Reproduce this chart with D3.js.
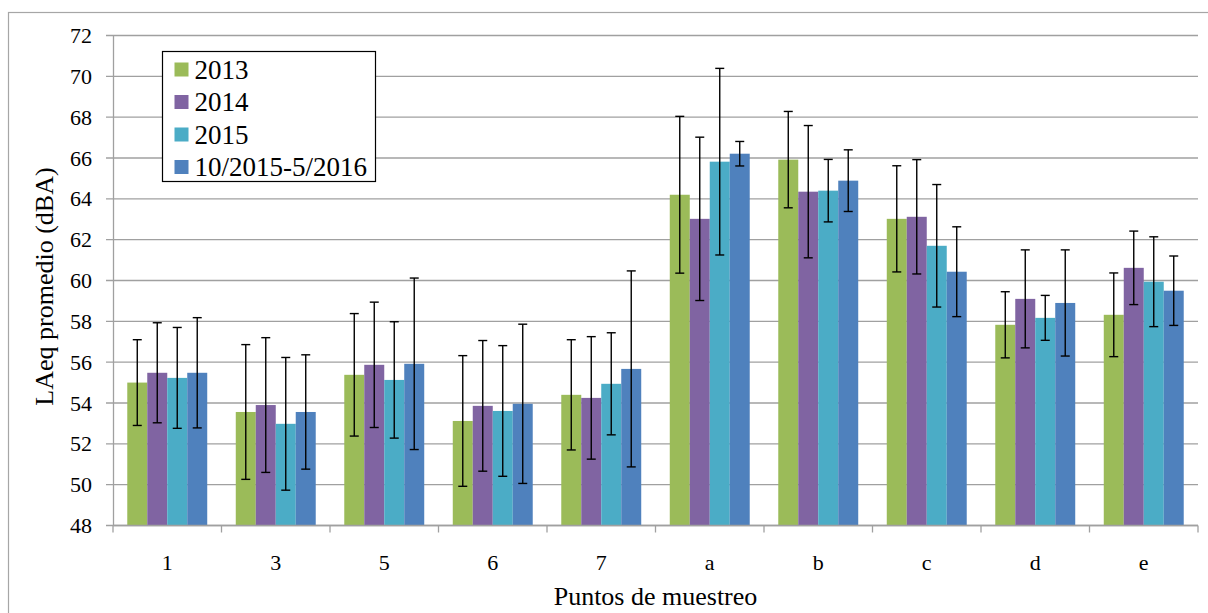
<!DOCTYPE html>
<html>
<head>
<meta charset="utf-8">
<script src="https://cdn.jsdelivr.net/npm/d3@7"></script>
<style>
  body { margin: 0; background: #fff; }
  svg text { font-family: "Liberation Serif", "Times New Roman", serif !important; fill: #000; }
</style>
</head>
<body>
<div id="chart"></div>
<script>
// datos
var categories = ["1", "3", "5", "6", "7", "a", "b", "c", "d", "e"];
var seriesNames = ["2013", "2014", "2015", "10/2015-5/2016"];
var seriesColors = ["#9BBB59", "#8064A2", "#4BACC6", "#4F81BD"];

var values2013 = [55.0, 53.56, 55.38, 53.12, 54.4, 64.2, 65.92, 63.02, 57.83, 58.32];
var values2014 = [55.48, 53.9, 55.87, 53.86, 54.25, 63.02, 64.35, 63.12, 59.1, 60.62];
var values2015 = [55.23, 52.98, 55.13, 53.61, 54.94, 65.82, 64.4, 61.7, 58.17, 59.94];
var values2016 = [55.48, 53.56, 55.92, 53.96, 55.67, 66.21, 64.89, 60.43, 58.9, 59.5];

// desviación (+/-)
var err2013 = [2.1, 3.3, 3.0, 3.2, 2.7, 3.84, 2.36, 2.6, 1.62, 2.05];
var err2014 = [2.45, 3.3, 3.07, 3.2, 3.0, 4.0, 3.24, 2.8, 2.4, 1.8];
var err2015 = [2.47, 3.25, 2.85, 3.2, 2.5, 4.57, 1.53, 3.0, 1.1, 2.2];
var err2016 = [2.7, 2.8, 4.2, 3.9, 4.8, 0.6, 1.51, 2.2, 2.6, 1.7];

var yTicks = [48, 50, 52, 54, 56, 58, 60, 62, 64, 66, 68, 70, 72];

var allValues = [values2013, values2014, values2015, values2016];
var allErrors = [err2013, err2014, err2015, err2016];

// tamaño
var W = 1208, H = 613;
var PLOT = { left: 113, right: 1198, top: 35.5, bottom: 525.5 };
var FONT = "'Liberation Serif', 'Times New Roman', serif";

var svg = d3.select("#chart")
  .append("svg")
  .attr("width", W)
  .attr("height", H)
  .attr("font-family", FONT);

// marco exterior
svg.append("rect")
  .attr("x", 8.5)
  .attr("y", 12.5)
  .attr("width", 1300)
  .attr("height", 700)
  .attr("fill", "none")
  .attr("stroke", "#a6a6a6")
  .attr("stroke-width", 1.2);

var x0 = d3.scaleBand()
  .domain(categories)
  .range([PLOT.left, PLOT.right])
  .padding(0);

var gap = x0.bandwidth() * 0.263;
var x1 = d3.scaleBand()
  .domain(seriesNames)
  .range([gap / 2, x0.bandwidth() - gap / 2])
  .padding(0);

var y = d3.scaleLinear()
  .domain([48, 72])
  .range([PLOT.bottom, PLOT.top]);

// líneas de cuadrícula
svg.append("g")
  .selectAll("line")
  .data(yTicks)
  .enter()
  .append("line")
  .attr("x1", PLOT.left - 7)
  .attr("x2", PLOT.right)
  .attr("y1", function (d) { return y(d); })
  .attr("y2", function (d) { return y(d); })
  .attr("stroke", "#a0a0a0")
  .attr("stroke-width", 1.3);

// eje y
var yAxis = d3.axisLeft(y).tickValues(yTicks).tickSize(0).tickPadding(21);
var gy = svg.append("g")
  .attr("transform", "translate(" + PLOT.left + ",0)")
  .call(yAxis)
  .attr("font-family", FONT)
  .attr("font-size", 22);
gy.select(".domain").attr("stroke", "#a0a0a0").attr("stroke-width", 1.3);
gy.selectAll("text").attr("fill", "#000");

// barras
var groups = svg.append("g")
  .selectAll("g")
  .data(categories)
  .enter()
  .append("g")
  .attr("transform", function (d) { return "translate(" + x0(d) + ",0)"; });

groups.selectAll("rect")
  .data(function (c, i) {
    return seriesNames.map(function (s, k) {
      return { serie: s, k: k, v: allValues[k][i], e: allErrors[k][i] };
    });
  })
  .enter()
  .append("rect")
  .attr("x", function (d) { return x1(d.serie); })
  .attr("y", function (d) { return y(d.v); })
  .attr("width", x1.bandwidth())
  .attr("height", function (d) { return y(48) - y(d.v); })
  .attr("fill", function (d) { return seriesColors[d.k]; });

// barras de error
var errData = [];
categories.forEach(function (c, i) {
  seriesNames.forEach(function (s, k) {
    errData.push({ c: c, serie: s, v: allValues[k][i], e: allErrors[k][i] });
  });
});
function cx(d) { return x0(d.c) + x1(d.serie) + x1.bandwidth() / 2; }
var cap = 4.5;
var errG = svg.append("g").attr("stroke", "#000").attr("stroke-width", 1.4);
errG.selectAll(".ev")
  .data(errData)
  .enter()
  .append("line")
  .attr("class", "ev")
  .attr("x1", cx)
  .attr("x2", cx)
  .attr("y1", function (d) { return y(d.v + d.e); })
  .attr("y2", function (d) { return y(d.v - d.e); });
errG.selectAll(".et")
  .data(errData)
  .enter()
  .append("line")
  .attr("class", "et")
  .attr("x1", function (d) { return cx(d) - cap; })
  .attr("x2", function (d) { return cx(d) + cap; })
  .attr("y1", function (d) { return y(d.v + d.e); })
  .attr("y2", function (d) { return y(d.v + d.e); });
errG.selectAll(".eb")
  .data(errData)
  .enter()
  .append("line")
  .attr("class", "eb")
  .attr("x1", function (d) { return cx(d) - cap; })
  .attr("x2", function (d) { return cx(d) + cap; })
  .attr("y1", function (d) { return y(d.v - d.e); })
  .attr("y2", function (d) { return y(d.v - d.e); });

// eje x
svg.append("line")
  .attr("x1", PLOT.left)
  .attr("x2", PLOT.right)
  .attr("y1", PLOT.bottom)
  .attr("y2", PLOT.bottom)
  .attr("stroke", "#a0a0a0")
  .attr("stroke-width", 1.3);

var boundaries = categories.map(function (c) { return x0(c); }).concat([PLOT.right]);
svg.append("g")
  .selectAll("line")
  .data(boundaries)
  .enter()
  .append("line")
  .attr("x1", function (d) { return d; })
  .attr("x2", function (d) { return d; })
  .attr("y1", PLOT.bottom)
  .attr("y2", PLOT.bottom + 7)
  .attr("stroke", "#a0a0a0")
  .attr("stroke-width", 1.3);

svg.append("g")
  .selectAll("text")
  .data(categories)
  .enter()
  .append("text")
  .attr("x", function (d) { return x0(d) + x0.bandwidth() / 2; })
  .attr("y", 570)
  .attr("text-anchor", "middle")
  .attr("font-size", 22)
  .text(function (d) { return d; });

// títulos
svg.append("text")
  .attr("x", (PLOT.left + PLOT.right) / 2)
  .attr("y", 605)
  .attr("text-anchor", "middle")
  .attr("font-size", 26)
  .text("Puntos de muestreo");

svg.append("text")
  .attr("transform", "translate(53," + ((PLOT.top + PLOT.bottom) / 2 + 6) + ") rotate(-90)")
  .attr("text-anchor", "middle")
  .attr("font-size", 26)
  .text("LAeq promedio (dBA)");

// leyenda
var legend = svg.append("g").attr("transform", "translate(162.5,51.5)");
legend.append("rect")
  .attr("width", 213)
  .attr("height", 130)
  .attr("fill", "#fff")
  .attr("stroke", "#000")
  .attr("stroke-width", 1.2);

var items = legend.selectAll(".item")
  .data(seriesNames)
  .enter()
  .append("g")
  .attr("class", "item")
  .attr("transform", function (d, i) { return "translate(12," + (18 + i * 32.5) + ")"; });
items.append("rect")
  .attr("x", 0)
  .attr("y", -7)
  .attr("width", 14)
  .attr("height", 14)
  .attr("fill", function (d, i) { return seriesColors[i]; });
items.append("text")
  .attr("x", 20)
  .attr("y", 0)
  .attr("dy", "0.35em")
  .attr("font-size", 27)
  .text(function (d) { return d; });
</script>
</body>
</html>
